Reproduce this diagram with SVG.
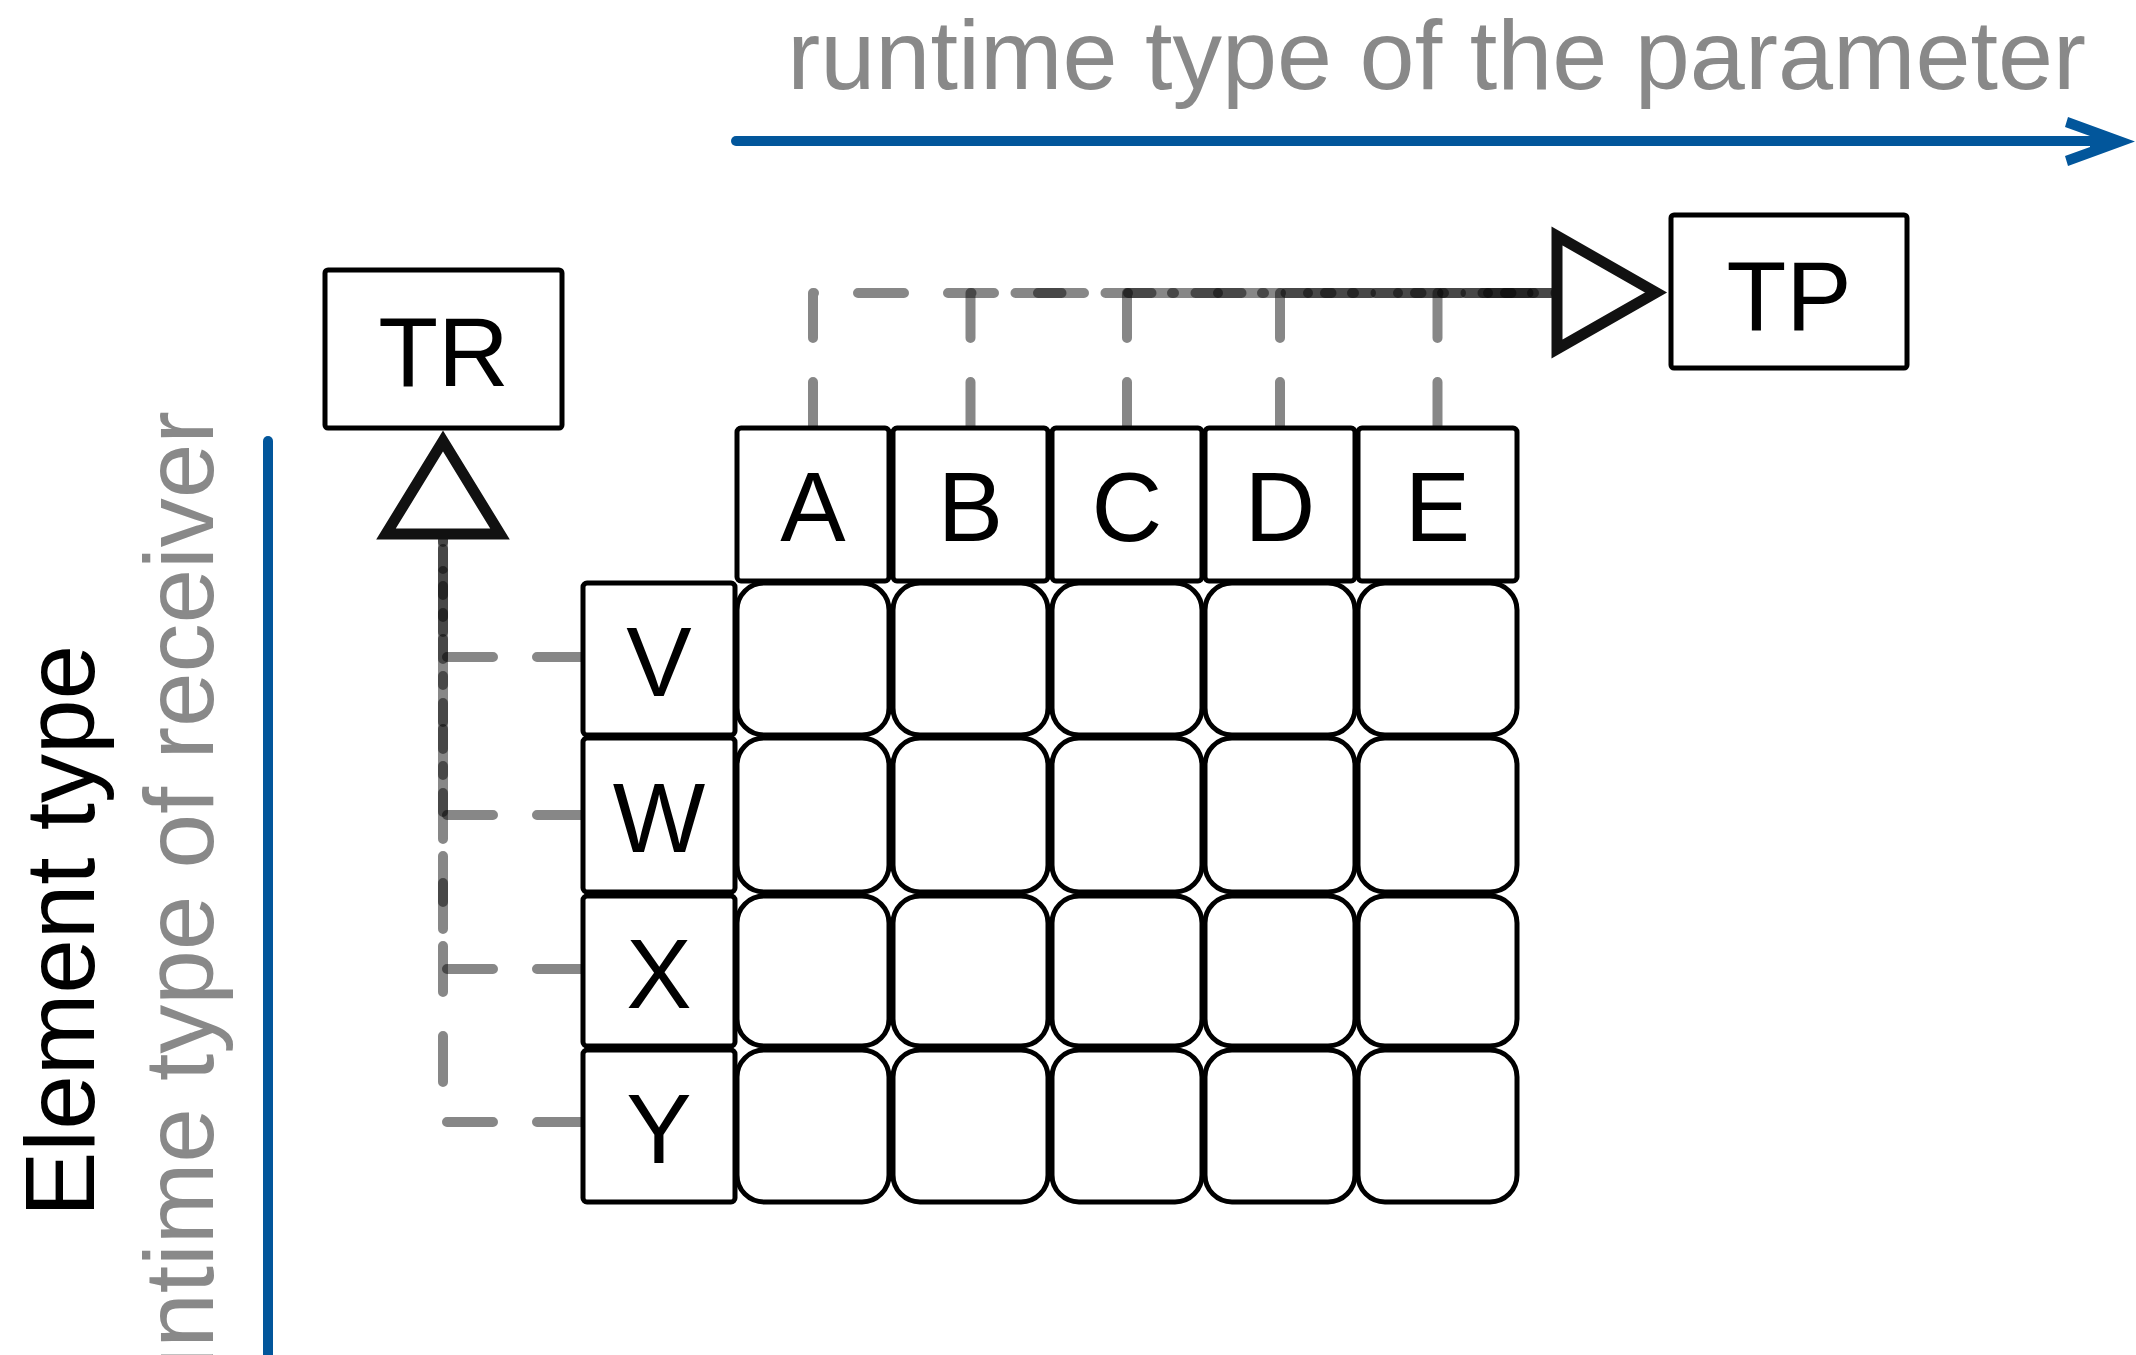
<svg xmlns="http://www.w3.org/2000/svg" width="2136" height="1355" viewBox="0 0 2136 1355">
<defs>
<style>
text{font-family:"Liberation Sans",Arial,Helvetica,sans-serif;font-size:98px;}
.lbl{fill:#000;text-anchor:middle;}
.axis{fill:#898989;}
.hdr{fill:#fff;stroke:#000;stroke-width:5;}
.cell{fill:#fff;stroke:#000;stroke-width:5;}
.box{fill:#fff;stroke:#000;stroke-width:5;}
.conn{fill:none;stroke:#000;stroke-opacity:0.47;stroke-width:10;stroke-dasharray:46 44;stroke-linecap:round;stroke-linejoin:round;}
.head{fill:#fff;stroke:#111;stroke-width:11;stroke-linejoin:miter;stroke-miterlimit:10;}
.blue{stroke:#02569b;stroke-width:10;stroke-linecap:round;fill:none;}
</style>
</defs>
<rect x="0" y="0" width="2136" height="1355" fill="#fff"/>

<g id="axes">
<text class="axis" x="2086" y="89" text-anchor="end" style="font-size:99px">runtime type of the parameter</text>
<line class="blue" x1="736" y1="141" x2="2092" y2="141"/>
<polygon fill="#02569b" points="2068,117 2135,141.5 2068,166 2065,156 2090,147 2090,136 2065,127"/>
<line class="blue" x1="268" y1="441" x2="268" y2="1365"/>
<text transform="translate(94,1217) rotate(-90)" fill="#000">Element type</text>
<text class="axis" transform="translate(213,411) rotate(-90)" text-anchor="end">runtime type of receiver</text>
</g>

<g id="connectors">
<path class="conn" d="M813,428 V293 H1557"/>
<path class="conn" d="M970.5,428 V293 H1557"/>
<path class="conn" d="M1127,428 V293 H1557"/>
<path class="conn" d="M1280,428 V293 H1557"/>
<path class="conn" d="M1437.5,428 V293 H1557"/>
<path class="conn" d="M583,657 H443 V533"/>
<path class="conn" d="M583,815 H443 V533"/>
<path class="conn" d="M583,969 H443 V533"/>
<path class="conn" d="M583,1122 H443 V533"/>
<polygon class="head" points="1557,236 1557,349 1656,292.5"/>
<polygon class="head" points="443,441 386,534 500,534"/>
</g>

<g id="TR"><rect class="box" x="325" y="270" width="237" height="158" rx="3"/><text class="lbl" x="443.5" y="386">TR</text></g>
<g id="TP"><rect class="box" x="1671" y="215" width="236" height="153" rx="3"/><text class="lbl" x="1789" y="330">TP</text></g>

<g id="colA"><rect class="hdr" x="737" y="428" width="152" height="153" rx="4"/><text class="lbl" x="813" y="541">A</text></g>
<g id="colB"><rect class="hdr" x="893" y="428" width="155" height="153" rx="4"/><text class="lbl" x="970.5" y="541">B</text></g>
<g id="colC"><rect class="hdr" x="1052" y="428" width="150" height="153" rx="4"/><text class="lbl" x="1127" y="541">C</text></g>
<g id="colD"><rect class="hdr" x="1205" y="428" width="150" height="153" rx="4"/><text class="lbl" x="1280" y="541">D</text></g>
<g id="colE"><rect class="hdr" x="1358" y="428" width="159" height="153" rx="4"/><text class="lbl" x="1437.5" y="541">E</text></g>

<g id="rowV"><rect class="hdr" x="583" y="583" width="152" height="152" rx="4"/><text class="lbl" x="659" y="696">V</text></g>
<g id="rowW"><rect class="hdr" x="583" y="738" width="152" height="154" rx="4"/><text class="lbl" x="659" y="852">W</text></g>
<g id="rowX"><rect class="hdr" x="583" y="896" width="152" height="150" rx="4"/><text class="lbl" x="659" y="1008">X</text></g>
<g id="rowY"><rect class="hdr" x="583" y="1050" width="152" height="152" rx="4"/><text class="lbl" x="659" y="1163">Y</text></g>

<g id="cell-V-A"><rect class="cell" x="737" y="583" width="152" height="152" rx="27"/></g>
<g id="cell-V-B"><rect class="cell" x="893" y="583" width="155" height="152" rx="27"/></g>
<g id="cell-V-C"><rect class="cell" x="1052" y="583" width="150" height="152" rx="27"/></g>
<g id="cell-V-D"><rect class="cell" x="1205" y="583" width="150" height="152" rx="27"/></g>
<g id="cell-V-E"><rect class="cell" x="1358" y="583" width="159" height="152" rx="27"/></g>
<g id="cell-W-A"><rect class="cell" x="737" y="738" width="152" height="154" rx="27"/></g>
<g id="cell-W-B"><rect class="cell" x="893" y="738" width="155" height="154" rx="27"/></g>
<g id="cell-W-C"><rect class="cell" x="1052" y="738" width="150" height="154" rx="27"/></g>
<g id="cell-W-D"><rect class="cell" x="1205" y="738" width="150" height="154" rx="27"/></g>
<g id="cell-W-E"><rect class="cell" x="1358" y="738" width="159" height="154" rx="27"/></g>
<g id="cell-X-A"><rect class="cell" x="737" y="896" width="152" height="150" rx="27"/></g>
<g id="cell-X-B"><rect class="cell" x="893" y="896" width="155" height="150" rx="27"/></g>
<g id="cell-X-C"><rect class="cell" x="1052" y="896" width="150" height="150" rx="27"/></g>
<g id="cell-X-D"><rect class="cell" x="1205" y="896" width="150" height="150" rx="27"/></g>
<g id="cell-X-E"><rect class="cell" x="1358" y="896" width="159" height="150" rx="27"/></g>
<g id="cell-Y-A"><rect class="cell" x="737" y="1050" width="152" height="152" rx="27"/></g>
<g id="cell-Y-B"><rect class="cell" x="893" y="1050" width="155" height="152" rx="27"/></g>
<g id="cell-Y-C"><rect class="cell" x="1052" y="1050" width="150" height="152" rx="27"/></g>
<g id="cell-Y-D"><rect class="cell" x="1205" y="1050" width="150" height="152" rx="27"/></g>
<g id="cell-Y-E"><rect class="cell" x="1358" y="1050" width="159" height="152" rx="27"/></g>
</svg>
